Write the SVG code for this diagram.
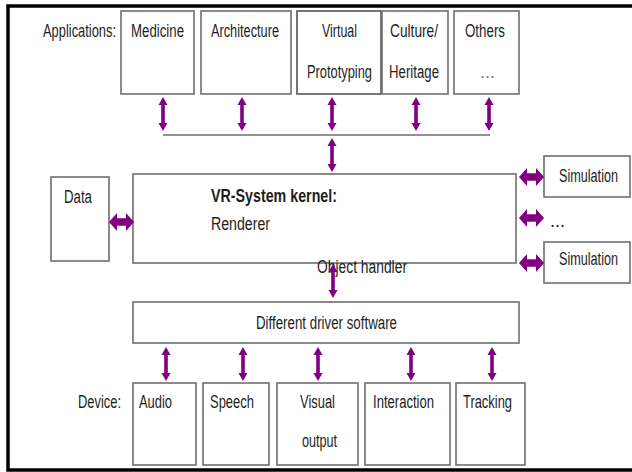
<svg xmlns="http://www.w3.org/2000/svg" width="632" height="472" viewBox="0 0 632 472">
<defs>
<style>
.box{fill:#fff;stroke:#6e6e6e;stroke-width:1.6}
.t{font-family:"Liberation Sans",Arial,sans-serif;font-size:18px;fill:#1e1e1e}
.b{font-weight:bold}
.dots{fill:#777}
.line{stroke:#6e6e6e;stroke-width:1.6;fill:none}
.arr{fill:#800080}
</style>
<polygon id="va" class="arr" points="0,0 4.5,8 1.8,8 1.8,26 4.5,26 0,34 -4.5,26 -1.8,26 -1.8,8 -4.5,8"/>
<polygon id="ha" class="arr" points="0,0 8,-9 8,-3.8 17,-3.8 17,-9 25,0 17,9 17,3.8 8,3.8 8,9"/>
</defs>
<rect width="632" height="472" fill="#fff"/>
<rect x="8" y="6" width="630" height="464" fill="none" stroke="#000" stroke-width="3.5"/>

<text class="t" x="43" y="37" textLength="73" lengthAdjust="spacingAndGlyphs">Applications:</text>
<text class="t" x="78" y="408" textLength="43" lengthAdjust="spacingAndGlyphs">Device:</text>

<g id="medicine"><rect class="box" x="121" y="11" width="73" height="83"/><text class="t" x="131" y="37" textLength="53" lengthAdjust="spacingAndGlyphs">Medicine</text></g>
<g id="architecture"><rect class="box" x="201" y="11" width="90" height="83"/><text class="t" x="211" y="37" textLength="68" lengthAdjust="spacingAndGlyphs">Architecture</text></g>
<g id="virtual"><rect class="box" x="297" y="11" width="84" height="83" style="stroke:#555"/><text class="t" x="322" y="37" textLength="35" lengthAdjust="spacingAndGlyphs">Virtual</text><text class="t" x="307" y="78" textLength="65" lengthAdjust="spacingAndGlyphs">Prototyping</text></g>
<g id="culture"><rect class="box" x="382" y="11" width="66" height="83"/><text class="t" x="390" y="37" textLength="48" lengthAdjust="spacingAndGlyphs">Culture/</text><text class="t" x="389" y="78" textLength="50" lengthAdjust="spacingAndGlyphs">Heritage</text></g>
<g id="others"><rect class="box" x="454" y="11" width="65" height="83"/><text class="t" x="465" y="37" textLength="40" lengthAdjust="spacingAndGlyphs">Others</text><text class="t dots" x="480" y="78" font-size="12">...</text></g>

<g id="data"><rect class="box" x="51" y="177" width="58" height="84"/><text class="t" x="64" y="203" textLength="28" lengthAdjust="spacingAndGlyphs">Data</text></g>
<g id="kernel"><rect class="box" x="133" y="174" width="383" height="89"/><text class="t b" x="211" y="202" textLength="126" lengthAdjust="spacingAndGlyphs">VR-System kernel:</text><text class="t" x="211" y="230" textLength="59" lengthAdjust="spacingAndGlyphs">Renderer</text><text class="t" x="317" y="273" textLength="90" lengthAdjust="spacingAndGlyphs">Object handler</text></g>
<g id="sim1"><rect class="box" x="544" y="156" width="86" height="41"/><text class="t" x="559" y="182" textLength="59" lengthAdjust="spacingAndGlyphs">Simulation</text></g>
<g id="simdots"><text class="t" x="550" y="227" font-size="12">...</text></g>
<g id="sim2"><rect class="box" x="544" y="242" width="86" height="41"/><text class="t" x="559" y="265" textLength="59" lengthAdjust="spacingAndGlyphs">Simulation</text></g>

<g id="driver"><rect class="box" x="133" y="302" width="386" height="41"/><text class="t" x="256" y="329" textLength="141" lengthAdjust="spacingAndGlyphs">Different driver software</text></g>

<g id="audio"><rect class="box" x="133" y="383" width="63" height="82"/><text class="t" x="139" y="408" textLength="33" lengthAdjust="spacingAndGlyphs">Audio</text></g>
<g id="speech"><rect class="box" x="203" y="383" width="66" height="82"/><text class="t" x="210" y="408" textLength="44" lengthAdjust="spacingAndGlyphs">Speech</text></g>
<g id="visual"><rect class="box" x="277" y="383" width="81" height="82"/><text class="t" x="300" y="408" textLength="35" lengthAdjust="spacingAndGlyphs">Visual</text><text class="t" x="302" y="447" textLength="35" lengthAdjust="spacingAndGlyphs">output</text></g>
<g id="interaction"><rect class="box" x="365" y="383" width="85" height="82"/><text class="t" x="373" y="408" textLength="61" lengthAdjust="spacingAndGlyphs">Interaction</text></g>
<g id="tracking"><rect class="box" x="456" y="383" width="69" height="82"/><text class="t" x="463" y="408" textLength="49" lengthAdjust="spacingAndGlyphs">Tracking</text></g>

<g id="connectors">
<line class="line" x1="163" y1="135" x2="490" y2="135"/>
<use href="#va" x="163" y="97"/>
<use href="#va" x="242" y="97"/>
<use href="#va" x="332" y="97"/>
<use href="#va" x="416" y="97"/>
<use href="#va" x="489" y="97"/>
<use href="#va" x="332" y="138"/>
<use href="#va" x="333" y="264"/>
<use href="#va" x="166" y="347"/>
<use href="#va" x="243" y="347"/>
<use href="#va" x="318" y="347"/>
<use href="#va" x="411" y="347"/>
<use href="#va" x="492" y="347"/>
<use href="#ha" x="109" y="222"/>
<use href="#ha" x="519" y="177"/>
<use href="#ha" x="519" y="218"/>
<use href="#ha" x="519" y="263"/>
</g>
</svg>
